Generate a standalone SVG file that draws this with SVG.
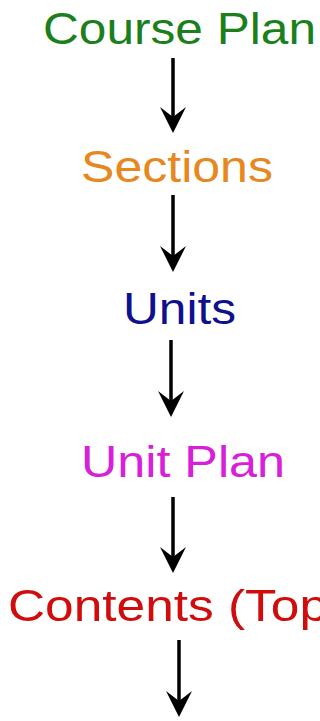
<svg xmlns="http://www.w3.org/2000/svg" width="320" height="721" viewBox="0 0 320 721">
<defs>
<style>
text{font-family:"Liberation Sans",Arial,sans-serif;font-size:45px}
.c{stroke:#000;stroke-width:3.5;fill:none}
</style>
<marker id="ah" viewBox="0 -13 26 26" markerWidth="26" markerHeight="26" markerUnits="userSpaceOnUse" refX="10" refY="0" orient="auto">
<path d="M0,-13 L26,0 L0,13 L10,0 Z" fill="#000"/>
</marker>
</defs>
<rect width="320" height="721" fill="#fff"/>
<g id="n1"><text x="43" y="43.5" fill="#1b7f1b" textLength="273" lengthAdjust="spacingAndGlyphs">Course Plan</text></g>
<g id="n2"><text x="81" y="182" fill="#e8871e" textLength="192" lengthAdjust="spacingAndGlyphs">Sections</text></g>
<g id="n3"><text x="123" y="323.5" fill="#10108f" textLength="113" lengthAdjust="spacingAndGlyphs">Units</text></g>
<g id="n4"><text x="81" y="477" fill="#d820d8" textLength="204" lengthAdjust="spacingAndGlyphs">Unit Plan</text></g>
<g id="n5"><text x="8" y="621" fill="#d00c0c" textLength="320" lengthAdjust="spacingAndGlyphs">Contents (Top</text></g>
<g id="connectors">
<line class="c" x1="173" y1="58" x2="173" y2="117" marker-end="url(#ah)"/>
<line class="c" x1="173" y1="195" x2="173" y2="256" marker-end="url(#ah)"/>
<line class="c" x1="171" y1="340" x2="171" y2="401" marker-end="url(#ah)"/>
<line class="c" x1="173" y1="497" x2="173" y2="557" marker-end="url(#ah)"/>
<line class="c" x1="179" y1="640" x2="179" y2="701" marker-end="url(#ah)"/>
</g>
</svg>
